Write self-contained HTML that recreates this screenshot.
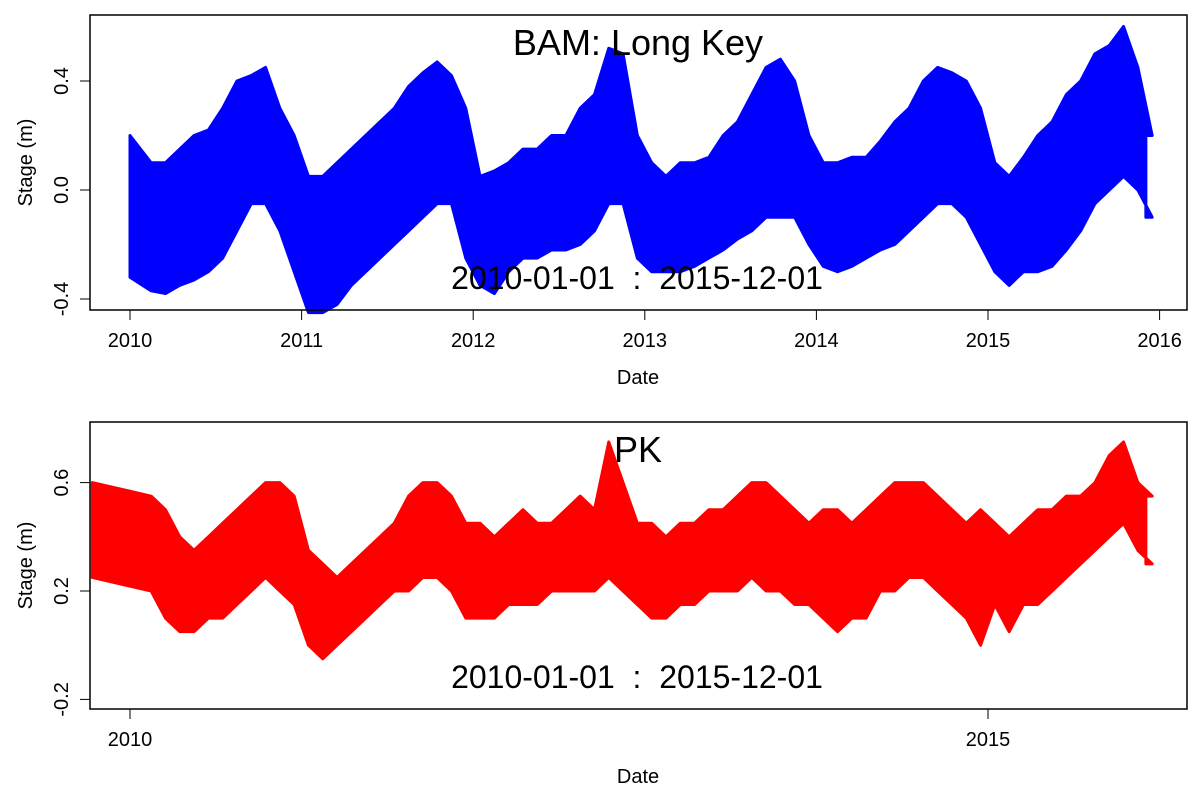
<!DOCTYPE html>
<html><head><meta charset="utf-8"><style>
body{margin:0;background:#fff}
svg{font-family:"Liberation Sans",Arial,sans-serif}
</style></head><body>
<svg id="c" width="1200" height="800"></svg>
<script>
const bamMax=[0.2,0.1,0.1,0.15,0.2,0.22,0.3,0.4,0.42,0.45,0.3,0.2,
0.05,0.05,0.1,0.15,0.2,0.25,0.3,0.38,0.43,0.47,0.42,0.3,
0.05,0.07,0.1,0.15,0.15,0.2,0.2,0.3,0.35,0.52,0.5,0.2,
0.1,0.05,0.1,0.1,0.12,0.2,0.25,0.35,0.45,0.48,0.4,0.2,
0.1,0.1,0.12,0.12,0.18,0.25,0.3,0.4,0.45,0.43,0.4,0.3,
0.1,0.05,0.12,0.2,0.25,0.35,0.4,0.5,0.53,0.6,0.45,0.2];
const bamMin=[-0.32,-0.37,-0.38,-0.35,-0.33,-0.3,-0.25,-0.15,-0.05,-0.05,-0.15,-0.3,
-0.45,-0.45,-0.42,-0.35,-0.3,-0.25,-0.2,-0.15,-0.1,-0.05,-0.05,-0.25,
-0.35,-0.38,-0.3,-0.25,-0.25,-0.22,-0.22,-0.2,-0.15,-0.05,-0.05,-0.25,
-0.3,-0.3,-0.3,-0.28,-0.25,-0.22,-0.18,-0.15,-0.1,-0.1,-0.1,-0.2,
-0.28,-0.3,-0.28,-0.25,-0.22,-0.2,-0.15,-0.1,-0.05,-0.05,-0.1,-0.2,
-0.3,-0.35,-0.3,-0.3,-0.28,-0.22,-0.15,-0.05,0.0,0.05,0.0,-0.1];
const pkMax=[0.6,0.55,0.5,0.4,0.35,0.4,0.45,0.5,0.55,0.6,0.6,0.55,
0.35,0.3,0.25,0.3,0.35,0.4,0.45,0.55,0.6,0.6,0.55,0.45,
0.45,0.4,0.45,0.5,0.45,0.45,0.5,0.55,0.5,0.75,0.6,0.45,
0.45,0.4,0.45,0.45,0.5,0.5,0.55,0.6,0.6,0.55,0.5,0.45,
0.5,0.5,0.45,0.5,0.55,0.6,0.6,0.6,0.55,0.5,0.45,0.5,
0.45,0.4,0.45,0.5,0.5,0.55,0.55,0.6,0.7,0.75,0.6,0.55];
const pkMin=[0.25,0.2,0.1,0.05,0.05,0.1,0.1,0.15,0.2,0.25,0.2,0.15,
0.0,-0.05,0.0,0.05,0.1,0.15,0.2,0.2,0.25,0.25,0.2,0.1,
0.1,0.1,0.15,0.15,0.15,0.2,0.2,0.2,0.2,0.25,0.2,0.15,
0.1,0.1,0.15,0.15,0.2,0.2,0.2,0.25,0.2,0.2,0.15,0.15,
0.1,0.05,0.1,0.1,0.2,0.2,0.25,0.25,0.2,0.15,0.1,0.0,
0.15,0.05,0.15,0.15,0.2,0.25,0.3,0.35,0.4,0.45,0.35,0.3];
const topYTicks=[-0.4,0.0,0.4];
const topXTicks=[2010,2011,2012,2013,2014,2015,2016];
const botYTicks=[-0.2,0.2,0.6];
const botXTicks=[2010,2015];

const NS="http://www.w3.org/2000/svg",svg=document.getElementById('c');
function mk(t,a,txt,p){const e=document.createElementNS(NS,t);for(const k in a)e.setAttribute(k,a[k]);if(txt!=null)e.textContent=txt;(p||svg).appendChild(e);return e;}
const fx=y=>130+(y-2010)*171.6;

function panel(o){
  const fy=v=>o.y0+(v-o.v0)*o.s;
  const g=mk('g',{});
  
  
  const n=o.max.length;
  const mx=i=>i===0?fx(o.start):fx(2010+i/12+0.04);
  let pts=[];
  o.max.forEach((v,i)=>pts.push([mx(i),fy(v)]));
  pts.push([fx(2010+n/12-0.08),fy(o.max[n-1])]);
  pts.push([fx(2010+n/12-0.08),fy(o.min[n-1])]);
  for(let i=n-1;i>=0;i--)pts.push([mx(i),fy(o.min[i])]);
  const band=mk('polygon',{points:pts.map(p=>p.join(',')).join(' '),fill:o.col,stroke:o.col,'stroke-width':3,'stroke-linejoin':'round'},null,g);
  
  
  const box=mk('rect',{x:90,y:o.top,width:1097,height:o.h,fill:'none',stroke:'#000','stroke-width':1.5},null,g);
  
  
  o.yt.forEach(v=>{const y=fy(v);mk('line',{x1:80,x2:90,y1:y,y2:y,stroke:'#000'},null,g);
    const t=mk('text',{x:0,y:0,'font-size':20,'text-anchor':'middle',transform:`translate(68,${y}) rotate(-90)`},v.toFixed(1),g);
    });
  const xa=o.top+o.h;
  mk('line',{x1:fx(o.xt[0]),x2:fx(o.xt[o.xt.length-1]),y1:xa,y2:xa,stroke:'#000'},null,g);
  o.xt.forEach(v=>{const x=fx(v);mk('line',{x1:x,x2:x,y1:xa,y2:xa+10,stroke:'#000'},null,g);
    const t=mk('text',{x:x,y:xa+37,'font-size':20,'text-anchor':'middle'},String(v),g);
    });
  const xl=mk('text',{x:638,y:xa+74,'font-size':20,'text-anchor':'middle'},'Date',g);
  
  const yl=mk('text',{x:0,y:0,'font-size':20,'text-anchor':'middle',transform:`translate(32,${o.top+o.h/2}) rotate(-90)`},'Stage (m)',g);
  
  const ti=mk('text',{x:638,y:o.top+40,'font-size':36,'text-anchor':'middle'},o.title,g);
  
  const dr=mk('text',{x:637,y:o.top+o.h-21,'font-size':32,'text-anchor':'middle'},'2010-01-01\u00a0\u00a0:\u00a0\u00a02015-12-01',g);
  
}
panel({name:'bam-long-key-panel',top:15,h:295,y0:190,v0:0,s:-272.5,max:bamMax,min:bamMin,col:'#0000ff',yt:topYTicks,xt:topXTicks,title:'BAM: Long Key',start:2010});
panel({name:'pk-panel',top:422,h:287,y0:591,v0:0.2,s:-271,max:pkMax,min:pkMin,col:'#ff0000',yt:botYTicks,xt:botXTicks,title:'PK',start:2009.78});
</script>
</body></html>
